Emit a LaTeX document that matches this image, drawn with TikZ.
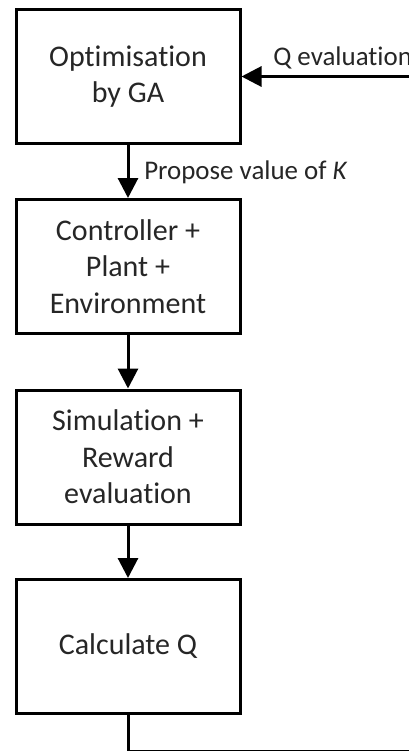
\documentclass[tikz,border=0pt]{standalone}
\usepackage{fontspec}
\setmainfont[Ligatures={NoCommon}]{Carlito}
\usetikzlibrary{arrows.meta}
\definecolor{txt}{HTML}{262626}
\begin{document}
\begin{tikzpicture}[x=0.75pt,y=-0.75pt,
  box/.style={draw=black, line width=2.25pt, minimum width=168pt, minimum height=100.5pt,
    align=center, text=txt, font=\fontsize{22.5}{27.5}\selectfont, inner sep=0pt},
  conn/.style={draw=black, line width=2.25pt},
  arr/.style={conn, -{Triangle[length=15pt,width=15pt]}},
  lbl/.style={text=txt, font=\fontsize{20.2}{24}\selectfont, inner sep=0pt, anchor=west}]
\useasboundingbox (0,0) rectangle (409,751);
\clip (0,0) rectangle (409,751);
\fill[white] (0,0) rectangle (409,751);
\node[box] (b1) at (128,76.5) {Optimisation\\by GA};
\node[box] (b2) at (128,266.5) {Controller +\\Plant +\\Environment};
\node[box] (b3) at (128,457) {Simulation +\\Reward\\evaluation};
\node[box] (b4) at (128,646.5) {Calculate Q};
\coordinate (c1) at (430,751);
\draw[arr] (b1.south) -- (b2.north);
\draw[arr] (b2.south) -- (b3.north);
\draw[arr] (b3.south) -- (b4.north);
\draw[arr] (b4.south) |- (c1) |- (b1.east);
\node[lbl] (l1) at (144,172) {Propose value of \textit{K}};
\node[lbl] (l2) at (273,58) {Q evaluation};
\end{tikzpicture}
\end{document}
